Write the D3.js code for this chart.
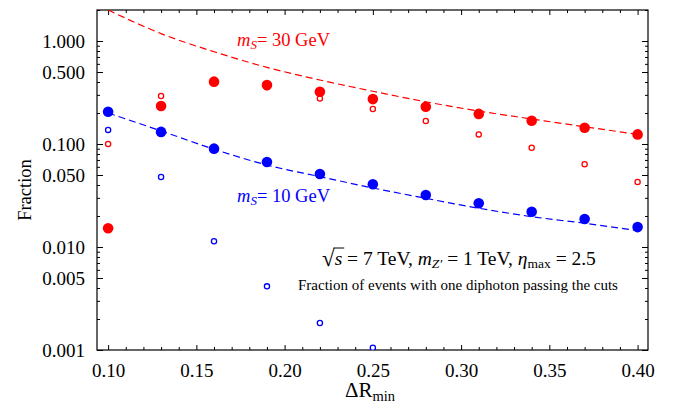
<!DOCTYPE html>
<html>
<head>
<meta charset="utf-8">
<script src="https://cdnjs.cloudflare.com/ajax/libs/d3/7.8.5/d3.min.js"></script>
<style>
  body { margin: 0; background: #fff; }
  text { font-family: "Liberation Serif", "Times New Roman", serif; }
</style>
</head>
<body>
<svg id="chart" width="678" height="404"></svg>
<script>
// values
var dR = [0.10, 0.13, 0.16, 0.19, 0.22, 0.25, 0.28, 0.31, 0.34, 0.37, 0.40];

var red30Filled = [0.0152, 0.234, 0.403, 0.374, 0.322, 0.273, 0.230, 0.196, 0.168, 0.144, 0.124];
var red30Open   = [0.100, 0.292, 0.400, 0.355, 0.277, 0.219, 0.167, 0.124, 0.092, 0.0635, 0.0428];
var red30Fit    = [2.0, 1.18, 0.787, 0.555, 0.418, 0.325, 0.257, 0.209, 0.175, 0.147, 0.124];

var blue10Filled = [0.206, 0.131, 0.0901, 0.0669, 0.0511, 0.0406, 0.0320, 0.0266, 0.0220, 0.0187, 0.0156];
var blue10Open   = [0.137, 0.0478, 0.01136, 0.00415, 0.00183, 0.00105, null, null, null, null, null];
var blue10Fit    = [0.200, 0.134, 0.089, 0.0625, 0.0482, 0.0374, 0.0297, 0.0238, 0.0197, 0.0170, 0.0144];

var xTicks = [0.10, 0.15, 0.20, 0.25, 0.30, 0.35, 0.40];
var yTicks = [1, 0.5, 0.1, 0.05, 0.01, 0.005, 0.001];
var yTickLabels = ["1.000", "0.500", "0.100", "0.050", "0.010", "0.005", "0.001"];

function drawChart() {
var svg = d3.select("#chart"),
    pL = 97, pR = 648, pT = 10, pB = 350;

var x = d3.scaleLinear().domain([0.0937, 0.4059]).range([pL, pR]);
var y = d3.scaleLog().domain([0.001, 2]).range([pB, pT]);

svg.append("defs").append("clipPath").attr("id", "plot")
  .append("rect")
    .attr("x", pL).attr("y", pT)
    .attr("width", pR - pL).attr("height", pB - pT);

// minor ticks
var xMinor = d3.range(10, 41).map(function(d) { return d / 100; })
    .filter(function(d) { return xTicks.indexOf(d) < 0; });
var yMinor = [];
[0.001, 0.01, 0.1, 1].forEach(function(p) {
  [2, 3, 4, 6, 7, 8, 9].forEach(function(m) {
    var v = +(p * m).toPrecision(3);
    if (v <= 2) yMinor.push(v);
  });
});

function axisGroup(axis, tx, ty) {
  var g = svg.append("g").attr("transform", "translate(" + tx + "," + ty + ")").call(axis);
  g.select(".domain").remove();
  g.selectAll("line").attr("stroke", "#000").attr("stroke-width", 1);
  return g;
}

// bottom / top
axisGroup(d3.axisBottom(x).tickValues(xMinor).tickSize(-3).tickFormat(""), 0, pB);
axisGroup(d3.axisTop(x).tickValues(xMinor).tickSize(-3).tickFormat(""), 0, pT);
axisGroup(d3.axisTop(x).tickValues(xTicks).tickSize(-5).tickFormat(""), 0, pT);
var xb = axisGroup(d3.axisBottom(x).tickValues(xTicks).tickSize(-5).tickPadding(14)
    .tickFormat(d3.format(".2f")), 0, pB);
xb.selectAll("text").attr("font-size", 19).attr("fill", "#000")
  .attr("font-family", "Liberation Serif");

// left / right
axisGroup(d3.axisLeft(y).tickValues(yMinor).tickSize(-3).tickFormat(""), pL, 0);
axisGroup(d3.axisRight(y).tickValues(yMinor).tickSize(-3).tickFormat(""), pR, 0);
axisGroup(d3.axisRight(y).tickValues(yTicks).tickSize(-6).tickFormat(""), pR, 0);
var yl = axisGroup(d3.axisLeft(y).tickValues(yTicks).tickSize(-6).tickPadding(12)
    .tickFormat(function(d, i) { return yTickLabels[i]; }), pL, 0);
yl.selectAll("text").attr("font-size", 19).attr("fill", "#000")
  .attr("font-family", "Liberation Serif");

// frame
svg.append("rect")
    .attr("x", pL).attr("y", pT)
    .attr("width", pR - pL).attr("height", pB - pT)
    .attr("fill", "none").attr("stroke", "#000").attr("stroke-width", 1.2);

var plot = svg.append("g").attr("clip-path", "url(#plot)");

function table(vals) {
  return dR.map(function(d, i) { return { x: d, y: vals[i] }; })
    .filter(function(d) { return d.y != null; });
}

var line = d3.line()
    .x(function(d) { return x(d.x); })
    .y(function(d) { return y(d.y); })
    .curve(d3.curveMonotoneX);

plot.append("path").datum(table(red30Fit)).attr("d", line)
    .attr("fill", "none").attr("stroke", "#ff0000").attr("stroke-width", 1.2)
    .attr("stroke-dasharray", "7,4");
plot.append("path").datum(table(blue10Fit)).attr("d", line)
    .attr("fill", "none").attr("stroke", "#0000ff").attr("stroke-width", 1.2)
    .attr("stroke-dasharray", "7,4");

function openDots(vals, color) {
  plot.append("g").selectAll("circle")
    .data(table(vals))
    .enter().append("circle")
      .attr("cx", function(d) { return x(d.x); })
      .attr("cy", function(d) { return y(d.y); })
      .attr("r", 2.6)
      .attr("fill", "#fff")
      .attr("stroke", color)
      .attr("stroke-width", 1.3);
}
function filledDots(vals, color) {
  plot.append("g").selectAll("circle")
    .data(table(vals))
    .enter().append("circle")
      .attr("cx", function(d) { return x(d.x); })
      .attr("cy", function(d) { return y(d.y); })
      .attr("r", 5.3)
      .attr("fill", color);
}
openDots(red30Open, "#ff0000");
openDots(blue10Open, "#0000ff");
filledDots(red30Filled, "#ff0000");
filledDots(blue10Filled, "#0000ff");

// labels
function massLabel(tx, ty, color, rest) {
  var t = svg.append("text").attr("x", tx).attr("y", ty)
      .attr("font-size", 18.5).attr("fill", color);
  t.append("tspan").attr("font-style", "italic").text("m");
  t.append("tspan").attr("font-style", "italic").attr("font-size", 13)
      .attr("dy", 3).text("S");
  t.append("tspan").attr("dy", -3).text("= " + rest);
}
massLabel(237, 46, "#ff0000", "30 GeV");
massLabel(237, 202, "#0000ff", "10 GeV");

var ax = 322, ay = 265;
var rad = svg.append("text").attr("x", ax).attr("y", ay + 1).attr("font-size", 23).text("\u221A");
var rw = rad.node().getComputedTextLength();
var info = svg.append("text").attr("x", ax + rw).attr("y", ay).attr("font-size", 19.5);
info.append("tspan").attr("font-style", "italic").text("s");
var sw = info.node().getComputedTextLength();
info.append("tspan").text("\u00A0= 7 TeV, ");
info.append("tspan").attr("font-style", "italic").text("m");
info.append("tspan").attr("font-style", "italic").attr("font-size", 13.5).attr("dy", 3).text("Z'");
info.append("tspan").attr("dy", -3).text(" = 1 TeV, ");
info.append("tspan").attr("font-style", "italic").text("\u03B7");
info.append("tspan").attr("font-size", 13.5).attr("dy", 3).text("max");
info.append("tspan").attr("dy", -3).text(" = 2.5");
svg.append("line")
    .attr("x1", ax + rw - 1).attr("x2", ax + rw + sw + 2)
    .attr("y1", ay - 17).attr("y2", ay - 17)
    .attr("stroke", "#000").attr("stroke-width", 1);

svg.append("text").attr("x", 298).attr("y", 290).attr("font-size", 15)
    .text("Fraction of events with one diphoton passing the cuts");

// axis titles
var xt = svg.append("text").attr("x", 345).attr("y", 397).attr("font-size", 21);
xt.append("tspan").text("\u0394R");
xt.append("tspan").attr("font-size", 14.5).attr("dy", 4).text("min");

svg.append("text")
    .attr("transform", "translate(31,190) rotate(-90)")
    .attr("text-anchor", "middle")
    .attr("font-size", 18.5)
    .text("Fraction");
}
drawChart();
</script>
</body>
</html>
